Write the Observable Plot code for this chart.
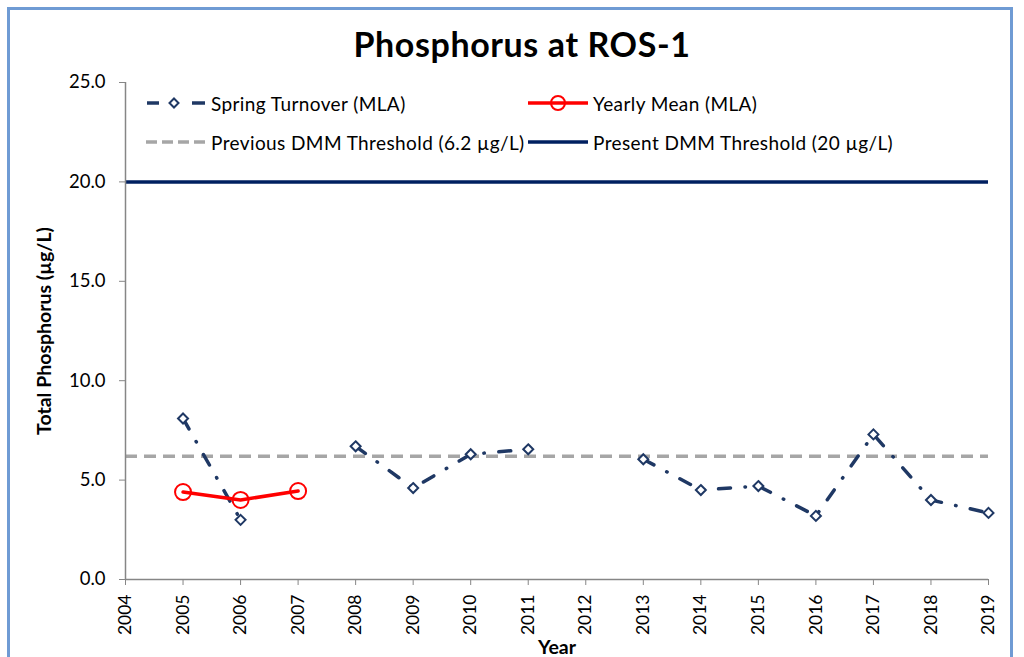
<!DOCTYPE html>
<html>
<head>
<meta charset="utf-8">
<script src="https://cdn.jsdelivr.net/npm/d3@7"></script>
<script src="https://cdn.jsdelivr.net/npm/@observablehq/plot@0.6"></script>
<style>
  html, body { margin: 0; padding: 0; background: #fff; overflow: hidden; }
  #wrap { position: relative; width: 1024px; height: 657px; font-family: Lato, "Noto Sans", sans-serif; }
  #frame { position: absolute; left: 7px; top: 7px; width: 1006px; height: 720px; border: 3px solid #6F9BD4; box-sizing: border-box; }
  #title { position: absolute; left: 0; top: 24px; width: 1044px; text-align: center; font-size: 34px; letter-spacing: 0.6px; font-weight: bold; color: #000; line-height: 40px; }
  .leg { position: absolute; display: flex; align-items: center; font-size: 19px; letter-spacing: 0.4px; color: #000; white-space: nowrap; }
  .leg svg { margin-right: 5px; }
  #chart svg g[aria-label="x-axis label"] text, #chart svg g[aria-label="y-axis label"] text { font-weight: bold; font-size: 19.5px; }
  #chart svg g[aria-label="y-axis tick label"] text { font-size: 18.5px; }
</style>
</head>
<body>
<div id="wrap">
  <div id="frame"></div>
  <div id="chart"></div>
  <div id="title">Phosphorus at ROS-1</div>
  <div id="legend"></div>
</div>
<script>
// ---- data ----
const years = [2005, 2006, 2007, 2008, 2009, 2010, 2011, 2012, 2013, 2014, 2015, 2016, 2017, 2018, 2019];
const springTP = [8.1, 3.0, null, 6.7, 4.6, 6.3, 6.55, null, 6.05, 4.5, 4.7, 3.2, 7.3, 4.0, 3.35];
const meanYears = [2005, 2006, 2007];
const meanTP = [4.4, 4.0, 4.45];
const previousThreshold = [6.2];
const presentThreshold = [20];
const xTicks = [2004, 2005, 2006, 2007, 2008, 2009, 2010, 2011, 2012, 2013, 2014, 2015, 2016, 2017, 2018, 2019];
const yTicks = [0, 5, 10, 15, 20, 25];
const seriesNames = ["Spring Turnover (MLA)", "Yearly Mean (MLA)", "Previous DMM Threshold (6.2 µg/L)", "Present DMM Threshold (20 µg/L)"];

const springData = years.map((year, i) => ({year, tp: springTP[i]}));
const springPoints = springData.filter(d => d.tp != null);
const meanData = meanYears.map((year, i) => ({year, tp: meanTP[i]}));

const NAVY = "#1F3864", DARK = "#002060", GRAY = "#A6A6A6", RED = "#FF0000", AXIS = "#868686";

const chart = Plot.plot({
  width: 1024,
  height: 657,
  marginLeft: 125,
  marginRight: 36,
  marginTop: 82,
  marginBottom: 78,
  style: {fontFamily: "Lato, 'Noto Sans', sans-serif", fontSize: "17.5px", color: "#000", background: "transparent", overflow: "visible"},
  x: {domain: [2004, 2019]},
  y: {domain: [0, 25]},
  marks: [
    Plot.ruleY(previousThreshold, {stroke: GRAY, strokeWidth: 3.5, strokeDasharray: "12,7"}),
    Plot.ruleY(presentThreshold, {stroke: DARK, strokeWidth: 3.5}),
    Plot.ruleX([xTicks[0]], {stroke: AXIS, strokeWidth: 1.5}),
    Plot.ruleY([yTicks[0]], {stroke: AXIS, strokeWidth: 1.5}),
    Plot.axisX({ticks: xTicks, tickFormat: "d", tickRotate: -90, tickSize: 6, tickPadding: 9, stroke: AXIS,
      label: "Year", labelAnchor: "center", labelOffset: 74, labelArrow: "none", fontSize: 17.5}),
    Plot.axisY({ticks: yTicks, tickFormat: ".1f", tickSize: 6, tickPadding: 14, stroke: AXIS,
      label: "Total Phosphorus (µg/L)", labelAnchor: "center", labelOffset: 88, labelArrow: "none", fontSize: 18.5}),
    Plot.line(springData, {x: "year", y: "tp", stroke: NAVY, strokeWidth: 3.5, strokeDasharray: "12,14.5,0.5,14.5", strokeLinecap: "round"}),
    Plot.dot(springPoints, {x: "year", y: "tp", symbol: "diamond2", r: 4.5, fill: "white", stroke: NAVY, strokeWidth: 2}),
    Plot.line(meanData, {x: "year", y: "tp", stroke: RED, strokeWidth: 3.5}),
    Plot.dot(meanData, {x: "year", y: "tp", r: 8, fill: "none", stroke: RED, strokeWidth: 2})
  ]
});
document.getElementById("chart").appendChild(chart);

// ---- legend ----
const swatches = [
  `<svg width="60" height="16"><line x1="1" y1="8" x2="13" y2="8" stroke="${NAVY}" stroke-width="3.5"/><path d="M28,3.5 L32.5,8 L28,12.5 L23.5,8 Z" fill="white" stroke="${NAVY}" stroke-width="2"/><line x1="46" y1="8" x2="59" y2="8" stroke="${NAVY}" stroke-width="3.5"/></svg>`,
  `<svg width="60" height="20"><line x1="0" y1="10" x2="60" y2="10" stroke="${RED}" stroke-width="3.5"/><circle cx="30" cy="10" r="7" fill="none" stroke="${RED}" stroke-width="2"/></svg>`,
  `<svg width="60" height="16"><line x1="0" y1="8" x2="60" y2="8" stroke="${GRAY}" stroke-width="3.5" stroke-dasharray="11,5"/></svg>`,
  `<svg width="60" height="16"><line x1="0" y1="8" x2="60" y2="8" stroke="${DARK}" stroke-width="3.5"/></svg>`
];
const legPos = [[146, 103], [528, 103], [146, 142], [528, 142]];
const legend = document.getElementById("legend");
seriesNames.forEach((name, i) => {
  const d = document.createElement("div");
  d.className = "leg";
  d.style.left = legPos[i][0] + "px";
  d.style.top = (legPos[i][1] - 11) + "px";
  d.style.height = "22px";
  d.innerHTML = swatches[i] + `<span>${name}</span>`;
  legend.appendChild(d);
});
</script>
</body>
</html>
